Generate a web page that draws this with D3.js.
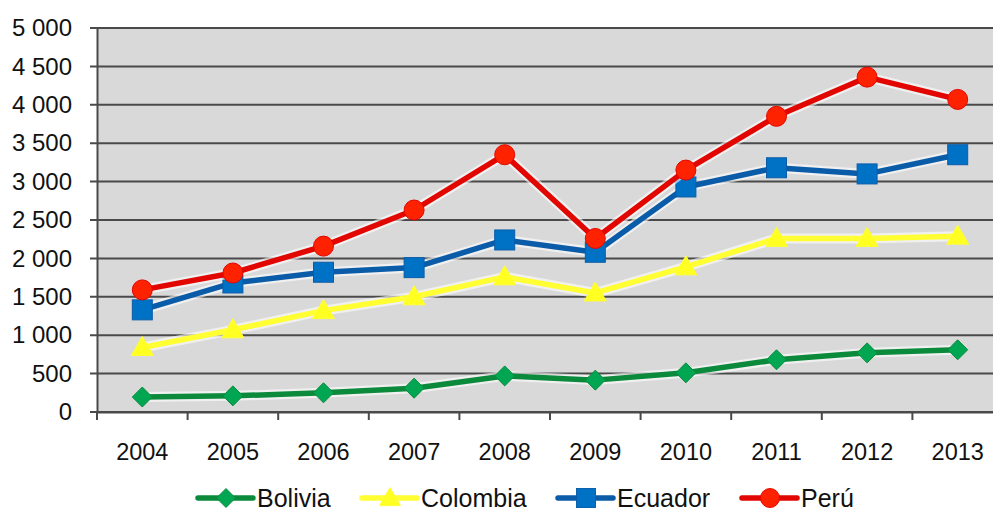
<!DOCTYPE html>
<html>
<head>
<meta charset="utf-8">
<script src="https://cdn.jsdelivr.net/npm/d3@7"></script>
<style>
  body { margin: 0; background: #fff; }
  svg { display: block; font-family: "Liberation Sans", Arial, sans-serif; }
</style>
</head>
<body>
<svg width="993" height="513"></svg>
<script>
// data
const years = ["2004", "2005", "2006", "2007", "2008", "2009", "2010", "2011", "2012", "2013"];
const bolivia = [195, 210, 250, 310, 470, 415, 510, 680, 770, 810];
const colombia = [840, 1070, 1320, 1500, 1760, 1550, 1890, 2260, 2260, 2290];
const ecuador = [1330, 1680, 1820, 1880, 2240, 2080, 2930, 3180, 3100, 3350];
const peru = [1590, 1810, 2160, 2630, 3350, 2260, 3150, 3850, 4360, 4070];
const yTicks = [0, 500, 1000, 1500, 2000, 2500, 3000, 3500, 4000, 4500, 5000];

const series = [
  { name: "Bolivia", values: bolivia, line: "#0b8a3c", fill: "#00a651", shape: "diamond" },
  { name: "Colombia", values: colombia, line: "#ffff33", fill: "#ffff22", shape: "triangle" },
  { name: "Ecuador", values: ecuador, line: "#0b5ca8", fill: "#0072c6", shape: "square" },
  { name: "Perú", values: peru, line: "#e10600", fill: "#ff2200", shape: "circle" }
];

let svg = d3.select("svg");
let plotLeft = 97, plotRight = 1003, plotTop = 28, plotBottom = 412;

let x = d3.scaleBand().domain(years).range([plotLeft, plotRight]).padding(0);
let y = d3.scaleLinear().domain([0, 5000]).range([plotBottom, plotTop]);

let fmt = d => d3.format(",")(d).replace(",", " ");

// plot background
svg.append("rect")
  .attr("x", plotLeft).attr("y", plotTop)
  .attr("width", plotRight - plotLeft).attr("height", plotBottom - plotTop)
  .attr("fill", "#d9d9d9");

// gridlines
svg.append("g")
  .selectAll("line")
  .data(yTicks)
  .join("line")
  .attr("x1", plotLeft - 7).attr("x2", plotRight)
  .attr("y1", d => y(d)).attr("y2", d => y(d))
  .attr("stroke", "#4a4a4a")
  .attr("stroke-width", 2);

// y axis
let yAxis = svg.append("g")
  .attr("transform", `translate(${plotLeft},0)`)
  .call(d3.axisLeft(y).tickValues(yTicks).tickFormat(fmt).tickSize(0).tickPadding(25));
yAxis.select(".domain").attr("stroke", "#4a4a4a").attr("stroke-width", 2);
yAxis.selectAll("text").attr("font-size", 24).attr("fill", "#111").attr("font-family", "Liberation Sans, Arial, sans-serif");

// x axis
let xAxis = svg.append("g")
  .attr("transform", `translate(0,${plotBottom})`)
  .call(d3.axisBottom(x).tickSize(0));
xAxis.select(".domain").attr("stroke", "#4a4a4a").attr("stroke-width", 2);
xAxis.selectAll("text")
  .attr("y", 48).attr("dy", 0)
  .attr("font-size", 23.5).attr("fill", "#111").attr("font-family", "Liberation Sans, Arial, sans-serif");

// category boundary ticks
svg.append("g")
  .selectAll("line")
  .data(d3.range(years.length + 1))
  .join("line")
  .attr("x1", i => plotLeft + i * x.step()).attr("x2", i => plotLeft + i * x.step())
  .attr("y1", plotBottom).attr("y2", plotBottom + 8)
  .attr("stroke", "#4a4a4a")
  .attr("stroke-width", 2);

function marker(g, shape, fill, stroke) {
  if (shape === "circle") {
    g.append("circle").attr("r", 10);
  } else if (shape === "square") {
    g.append("rect").attr("x", -10).attr("y", -10).attr("width", 20).attr("height", 20);
  } else if (shape === "diamond") {
    g.append("path").attr("d", "M0,-10L10,0L0,10L-10,0Z");
  } else {
    g.append("path").attr("d", "M0,-11L11,8L-11,8Z");
  }
  g.selectAll("*").attr("fill", fill).attr("stroke", stroke).attr("stroke-width", 1);
}

let cx = d => x(d) + x.bandwidth() / 2;
let line = d3.line().x((d, i) => cx(years[i])).y(d => y(d));

series.forEach(s => {
  let g = svg.append("g");
  // soft white halo
  g.append("path")
    .attr("d", line(s.values))
    .attr("fill", "none")
    .attr("stroke", "#fff")
    .attr("stroke-opacity", 0.6)
    .attr("stroke-width", 10)
    .attr("stroke-linejoin", "round");
  g.append("path")
    .attr("d", line(s.values))
    .attr("fill", "none")
    .attr("stroke", s.line)
    .attr("stroke-width", 5.5)
    .attr("stroke-linejoin", "round");
  s.values.forEach((v, i) => {
    let m = g.append("g").attr("transform", `translate(${cx(years[i])},${y(v)})`);
    marker(m, s.shape, s.fill, s.line);
  });
});

// legend
let legendX = [198, 362, 558, 742];
series.forEach((s, i) => {
  let g = svg.append("g").attr("transform", `translate(${legendX[i]},498)`);
  g.append("line")
    .attr("x1", 0).attr("x2", 55)
    .attr("stroke", s.line).attr("stroke-width", 5.5)
    .attr("stroke-linecap", "round");
  let m = g.append("g");
  marker(m, s.shape, s.fill, s.line);
  m.attr("transform", "translate(28,0) scale(0.95)");
  g.append("text")
    .attr("x", 59).attr("y", 8.5)
    .attr("font-size", 25)
    .attr("fill", "#111")
    .text(s.name);
});
</script>
</body>
</html>
